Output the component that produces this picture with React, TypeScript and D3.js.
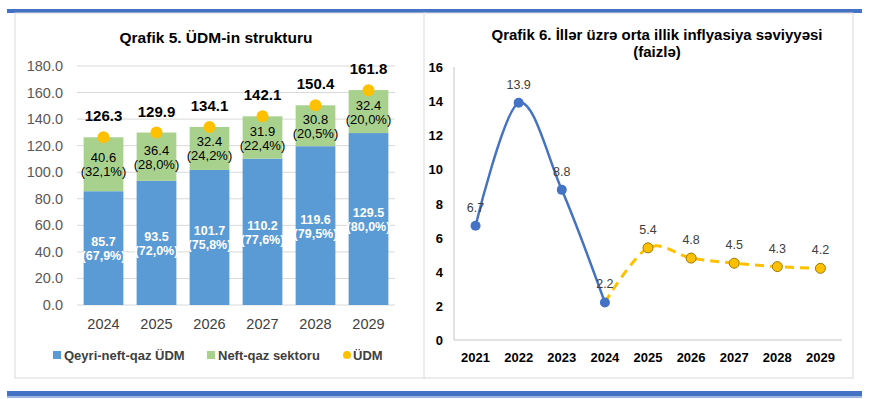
import React from 'react';
import { scaleBand, scaleLinear, scalePoint, line, curveCatmullRom } from 'd3';

const width = 869;
const height = 399;

// Qrafik 5
const gdpYears = ['2024', '2025', '2026', '2027', '2028', '2029'];
const nonOil = [85.7, 93.5, 101.7, 110.2, 119.6, 129.5];
const nonOilShare = ['67,9%', '72,0%', '75,8%', '77,6%', '79,5%', '80,0%'];
const oilGas = [40.6, 36.4, 32.4, 31.9, 30.8, 32.4];
const oilGasShare = ['32,1%', '28,0%', '24,2%', '22,4%', '20,5%', '20,0%'];
const gdpTotal = [126.3, 129.9, 134.1, 142.1, 150.4, 161.8];
const gdpTicks = [0, 20, 40, 60, 80, 100, 120, 140, 160, 180];

// Qrafik 6
const inflYears = ['2021', '2022', '2023', '2024', '2025', '2026', '2027', '2028', '2029'];
const actualYears = ['2021', '2022', '2023', '2024'];
const actualInfl = [6.7, 13.9, 8.8, 2.2];
const forecastYears = ['2024', '2025', '2026', '2027', '2028', '2029'];
const forecastInfl = [2.2, 5.4, 4.8, 4.5, 4.3, 4.2];
const inflTicks = [0, 2, 4, 6, 8, 10, 12, 14, 16];

const BLUE = '#5B9BD5';
const GREEN = '#A9D18E';
const GOLD = '#FFC000';
const LINEBLUE = '#4472C4';
const FONT = 'Liberation Sans, Arial, sans-serif';

const GdpChart = () => {
  const x = scaleBand().domain(gdpYears).range([77, 395]).paddingInner(0.25).paddingOuter(0.125);
  const y = scaleLinear().domain([0, 180]).range([305, 66]);
  return (
    <g fontFamily={FONT}>
      <rect x={15} y={13} width={410} height={365} fill="#fff" stroke="#d9d9d9" />
      <text x={216} y={43} textAnchor="middle" fontSize={15.5} fontWeight="bold">Qrafik 5. ÜDM-in strukturu</text>
      {gdpTicks.map((t) => (
        <g key={t}>
          <line x1={77} x2={395} y1={y(t)} y2={y(t)} stroke="#d9d9d9" />
          <text x={63} y={y(t) + 5} textAnchor="end" fontSize={14.5} fill="#595959">{t.toFixed(1)}</text>
        </g>
      ))}
      {gdpYears.map((yr, i) => {
        const bx = x(yr)!;
        const bw = x.bandwidth();
        const cx = bx + bw / 2;
        const midBlue = y(nonOil[i] / 2);
        const midGreen = y(nonOil[i] + oilGas[i] / 2);
        return (
          <g key={yr}>
            <rect x={bx} y={y(nonOil[i])} width={bw} height={y(0) - y(nonOil[i])} fill={BLUE} />
            <rect x={bx} y={y(nonOil[i] + oilGas[i])} width={bw} height={y(nonOil[i]) - y(nonOil[i] + oilGas[i])} fill={GREEN} />
            <text x={cx} y={midBlue - 2} textAnchor="middle" fontSize={12.5} fontWeight="bold" fill="#fff">{nonOil[i].toFixed(1)}</text>
            <text x={cx} y={midBlue + 12} textAnchor="middle" fontSize={12.5} fontWeight="bold" fill="#fff">({nonOilShare[i]})</text>
            <text x={cx} y={midGreen - 2} textAnchor="middle" fontSize={13} fill="#000">{oilGas[i].toFixed(1)}</text>
            <text x={cx} y={midGreen + 12} textAnchor="middle" fontSize={13} fill="#000">({oilGasShare[i]})</text>
            <circle cx={cx} cy={y(gdpTotal[i])} r={6} fill={GOLD} />
            <text x={cx} y={y(gdpTotal[i]) - 16} textAnchor="middle" fontSize={15} fontWeight="bold">{gdpTotal[i].toFixed(1)}</text>
            <text x={cx} y={329} textAnchor="middle" fontSize={14.5} fill="#404040">{yr}</text>
          </g>
        );
      })}
      <g fontSize={13} fontWeight="bold" fill="#404040">
        <rect x={53} y={351} width={8} height={8} fill={BLUE} />
        <text x={64} y={360}>Qeyri-neft-qaz ÜDM</text>
        <rect x={207} y={351} width={8} height={8} fill={GREEN} />
        <text x={218} y={360}>Neft-qaz sektoru</text>
        <circle cx={347} cy={355} r={4} fill={GOLD} />
        <text x={353} y={360}>ÜDM</text>
      </g>
    </g>
  );
};

const InflationChart = () => {
  const x = scalePoint().domain(inflYears).range([454, 842]).padding(0.5);
  const y = scaleLinear().domain([0, 16]).range([340, 67]);
  const actualPath = line<number>()
    .curve(curveCatmullRom.alpha(0))
    .x((_, i) => x(actualYears[i])!)
    .y((d) => y(d))(actualInfl);
  const forecastPath = line<number>()
    .curve(curveCatmullRom.alpha(0))
    .x((_, i) => x(forecastYears[i])!)
    .y((d) => y(d))(forecastInfl);
  return (
    <g fontFamily={FONT}>
      <rect x={424} y={13} width={429} height={365} fill="#fff" stroke="#d9d9d9" />
      <text x={657} y={40} textAnchor="middle" fontSize={15} fontWeight="bold">Qrafik 6. İllər üzrə orta illik inflyasiya səviyyəsi</text>
      <text x={657} y={57} textAnchor="middle" fontSize={15} fontWeight="bold">(faizlə)</text>
      <line x1={454} x2={454} y1={y(16)} y2={y(0)} stroke="#d9d9d9" strokeWidth={1.5} />
      <line x1={454} x2={842} y1={y(0)} y2={y(0)} stroke="#d9d9d9" strokeWidth={1.5} />
      {inflTicks.map((t) => (
        <text key={t} x={443} y={y(t) + 5} textAnchor="end" fontSize={13} fontWeight="bold">{t}</text>
      ))}
      {inflYears.map((yr) => (
        <text key={yr} x={x(yr)} y={362} textAnchor="middle" fontSize={13} fontWeight="bold">{yr}</text>
      ))}
      <path d={forecastPath!} fill="none" stroke={GOLD} strokeWidth={3} strokeDasharray="9,6" />
      <path d={actualPath!} fill="none" stroke={LINEBLUE} strokeWidth={2.5} />
      {actualYears.map((yr, i) => (
        <g key={yr}>
          <circle cx={x(yr)} cy={y(actualInfl[i])} r={5} fill={LINEBLUE} />
          <text x={x(yr)} y={y(actualInfl[i]) - 14} textAnchor="middle" fontSize={12.5} fill="#404040">{actualInfl[i]}</text>
        </g>
      ))}
      {forecastYears.slice(1).map((yr, i) => (
        <g key={yr}>
          <circle cx={x(yr)} cy={y(forecastInfl[i + 1])} r={5} fill={GOLD} stroke="#9c7a00" strokeWidth={1} />
          <text x={x(yr)} y={y(forecastInfl[i + 1]) - 14} textAnchor="middle" fontSize={12.5} fill="#404040">{forecastInfl[i + 1]}</text>
        </g>
      ))}
    </g>
  );
};

export default function App() {
  return (
    <svg width={width} height={height} style={{ position: 'absolute', left: 0, top: 0, background: '#fff' }}>
      <rect x={7} y={9} width={855} height={4} fill={LINEBLUE} />
      <GdpChart />
      <InflationChart />
      <rect x={7} y={391} width={855} height={5} fill={LINEBLUE} />
      <rect x={7} y={396} width={855} height={2} fill="#9fb6e0" />
    </svg>
  );
}
